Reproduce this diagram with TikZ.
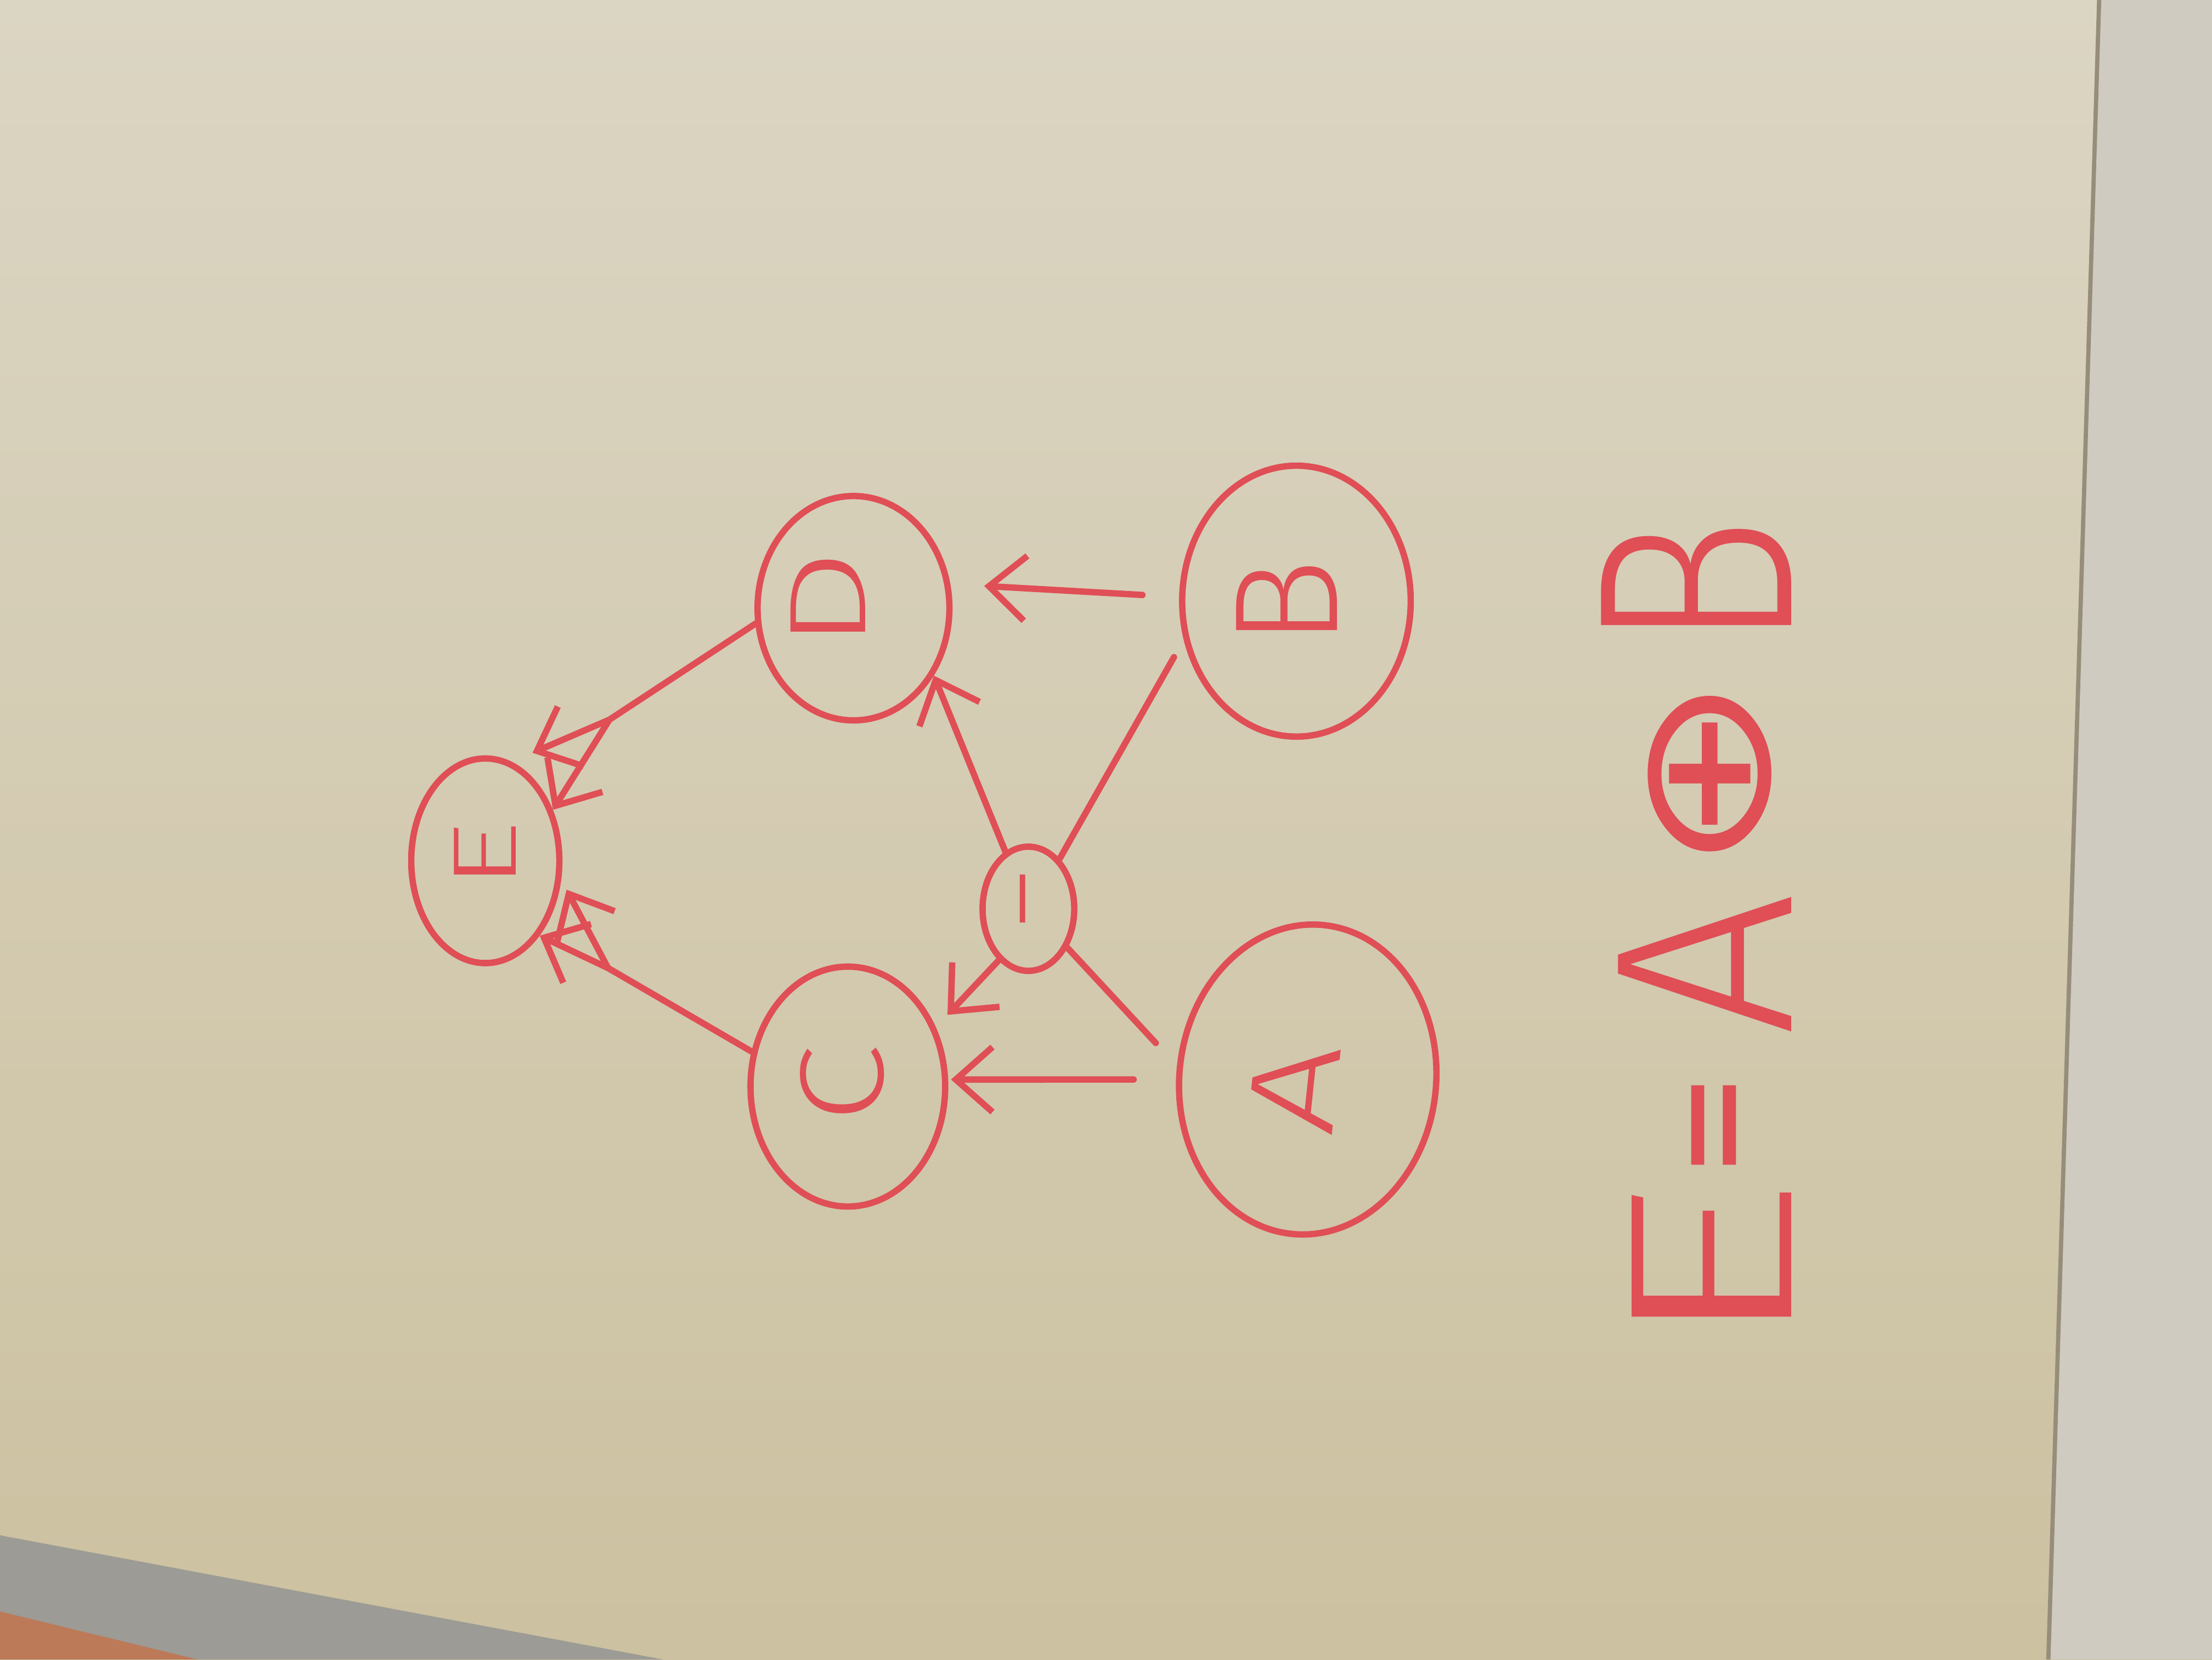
\documentclass[tikz,border=0pt]{standalone}
\usepackage{fontspec}
\IfFontExistsTF{Fira Sans Light}{\setmainfont{Fira Sans Light}}{\setmainfont{Fira Sans}}
\newfontfamily\symfont{DejaVu Sans}
\usepackage{graphicx}
\usetikzlibrary{shapes.geometric,arrows.meta}
\definecolor{marker}{RGB}{224,78,86}
\definecolor{boardtop}{RGB}{219,213,195}
\definecolor{boardbot}{RGB}{204,193,160}
\definecolor{framegrey}{RGB}{207,203,193}
\definecolor{frameedge}{RGB}{150,142,122}
\definecolor{trimgrey}{RGB}{156,155,149}
\definecolor{floorbrown}{RGB}{188,122,88}
% label turned a quarter turn; #1 moves it up and #2 right in its own frame
\newcommand{\turned}[3]{\rotatebox{90}{\raisebox{#1}[\height][\depth]{\kern#2 #3\kern-#2}}}
\begin{document}
\begin{tikzpicture}[x=0.1mm,y=-0.1mm,
  pen/.style={draw=marker,line width=0.45mm,line cap=round,line join=round},
  vertex/.style n args={3}{ellipse,pen,inner sep=0pt,text=marker,
    minimum width=#1,minimum height=#2,font=\fontsize{#3}{#3}\selectfont},
  link/.style={pen},
  arr/.style={pen,-{Straight Barb[length=2.6mm,width=4.6mm]}},
  eqn/.style={text=marker,rotate=90,anchor=base,inner sep=0pt}
]
\useasboundingbox (0,0) rectangle (1568,1176);

% whiteboard surface and its frame
\shade[top color=boardtop,bottom color=boardbot] (0,0) rectangle (1568,1176);
\fill[framegrey] (1488,0) -- (1568,0) -- (1568,1176) -- (1452,1176) -- cycle;
\draw[frameedge,line width=0.3mm] (1488,0) -- (1452,1176);
\fill[trimgrey] (0,1088) -- (470,1176) -- (0,1176) -- cycle;
\fill[floorbrown] (0,1142) -- (140,1176) -- (0,1176) -- cycle;

% vertices
\node[vertex={10.5mm}{14.5mm}{18.2}] (E) at (344,610) {\turned{0mm}{0.4mm}{\scalebox{1.5}[1]{E}}};
\node[vertex={13.6mm}{15.9mm}{22}] (D) at (605,431) {\turned{1.8mm}{0.6mm}{\scalebox{1.45}[1]{D}}};
\node[vertex={13.8mm}{17mm}{24}] (C) at (601,770) {\turned{0.4mm}{0.2mm}{\scalebox{1.2}[1]{C}}};
\node[vertex={6.5mm}{8.8mm}{22}] (I) at (729,644) {\turned{-0.7mm}{0.7mm}{–}};
\node[vertex={16.2mm}{19.2mm}{29.7}] (B) at (919,426) {\turned{0.7mm}{-0.1mm}{B}};
\node[vertex={18.2mm}{22mm}{25},rotate=-6] (A) at (927,765) {\turned{0.9mm}{-0.7mm}{\scalebox{1.3}[1]{A}}};

% branching points of the forked arrows into E
\coordinate (dfork) at (432,510);
\coordinate (cfork) at (431,686);

% connectors
\draw[arr,shorten <=2.6mm,shorten >=2.4mm] (B.178) -- (D.14);
\draw[link] (D.189) -- (dfork);
\draw[arr,shorten >=1.6mm] (dfork) -- (E.75);
\draw[arr] (dfork) -- (E.37);
\draw[link] (C.160) -- (cfork);
\draw[arr] (cfork) -- (E.-54);
\draw[arr,shorten >=0.8mm] (cfork) -- (E.-14);
\draw[arr] (I.112) -- (D.-40);
\draw[link,shorten <=1.4mm] (B.199) -- (I.58);
\draw[link,shorten <=2.2mm] (A.180) -- (I.-45);
\draw[arr,shorten >=1.2mm] (I.240) -- (C.34);
\draw[arr,shorten <=3mm,shorten >=0.2mm] (A.186) -- (C.4);

% equation, one slot per symbol
\node[eqn] (eq) at (1270,638.5) {%
  \makebox[10.5mm]{\kern-2mm\fontsize{47}{47}\selectfont\scalebox{1.5}[1]{E}}%
  \makebox[7.5mm]{\symfont\fontsize{32}{32}\selectfont\raisebox{2mm}{\scalebox{0.8}[1]{=}}}%
  \makebox[15.3mm]{\fontsize{51}{51}\selectfont A}%
  \makebox[11.7mm]{\symfont\fontsize{38}{38}\selectfont\raisebox{1.6mm}{\scalebox{1.26}[1]{⊕}}}%
  \makebox[15.3mm]{\fontsize{56}{56}\selectfont\scalebox{0.8}[1]{B}}};
\end{tikzpicture}
\end{document}
